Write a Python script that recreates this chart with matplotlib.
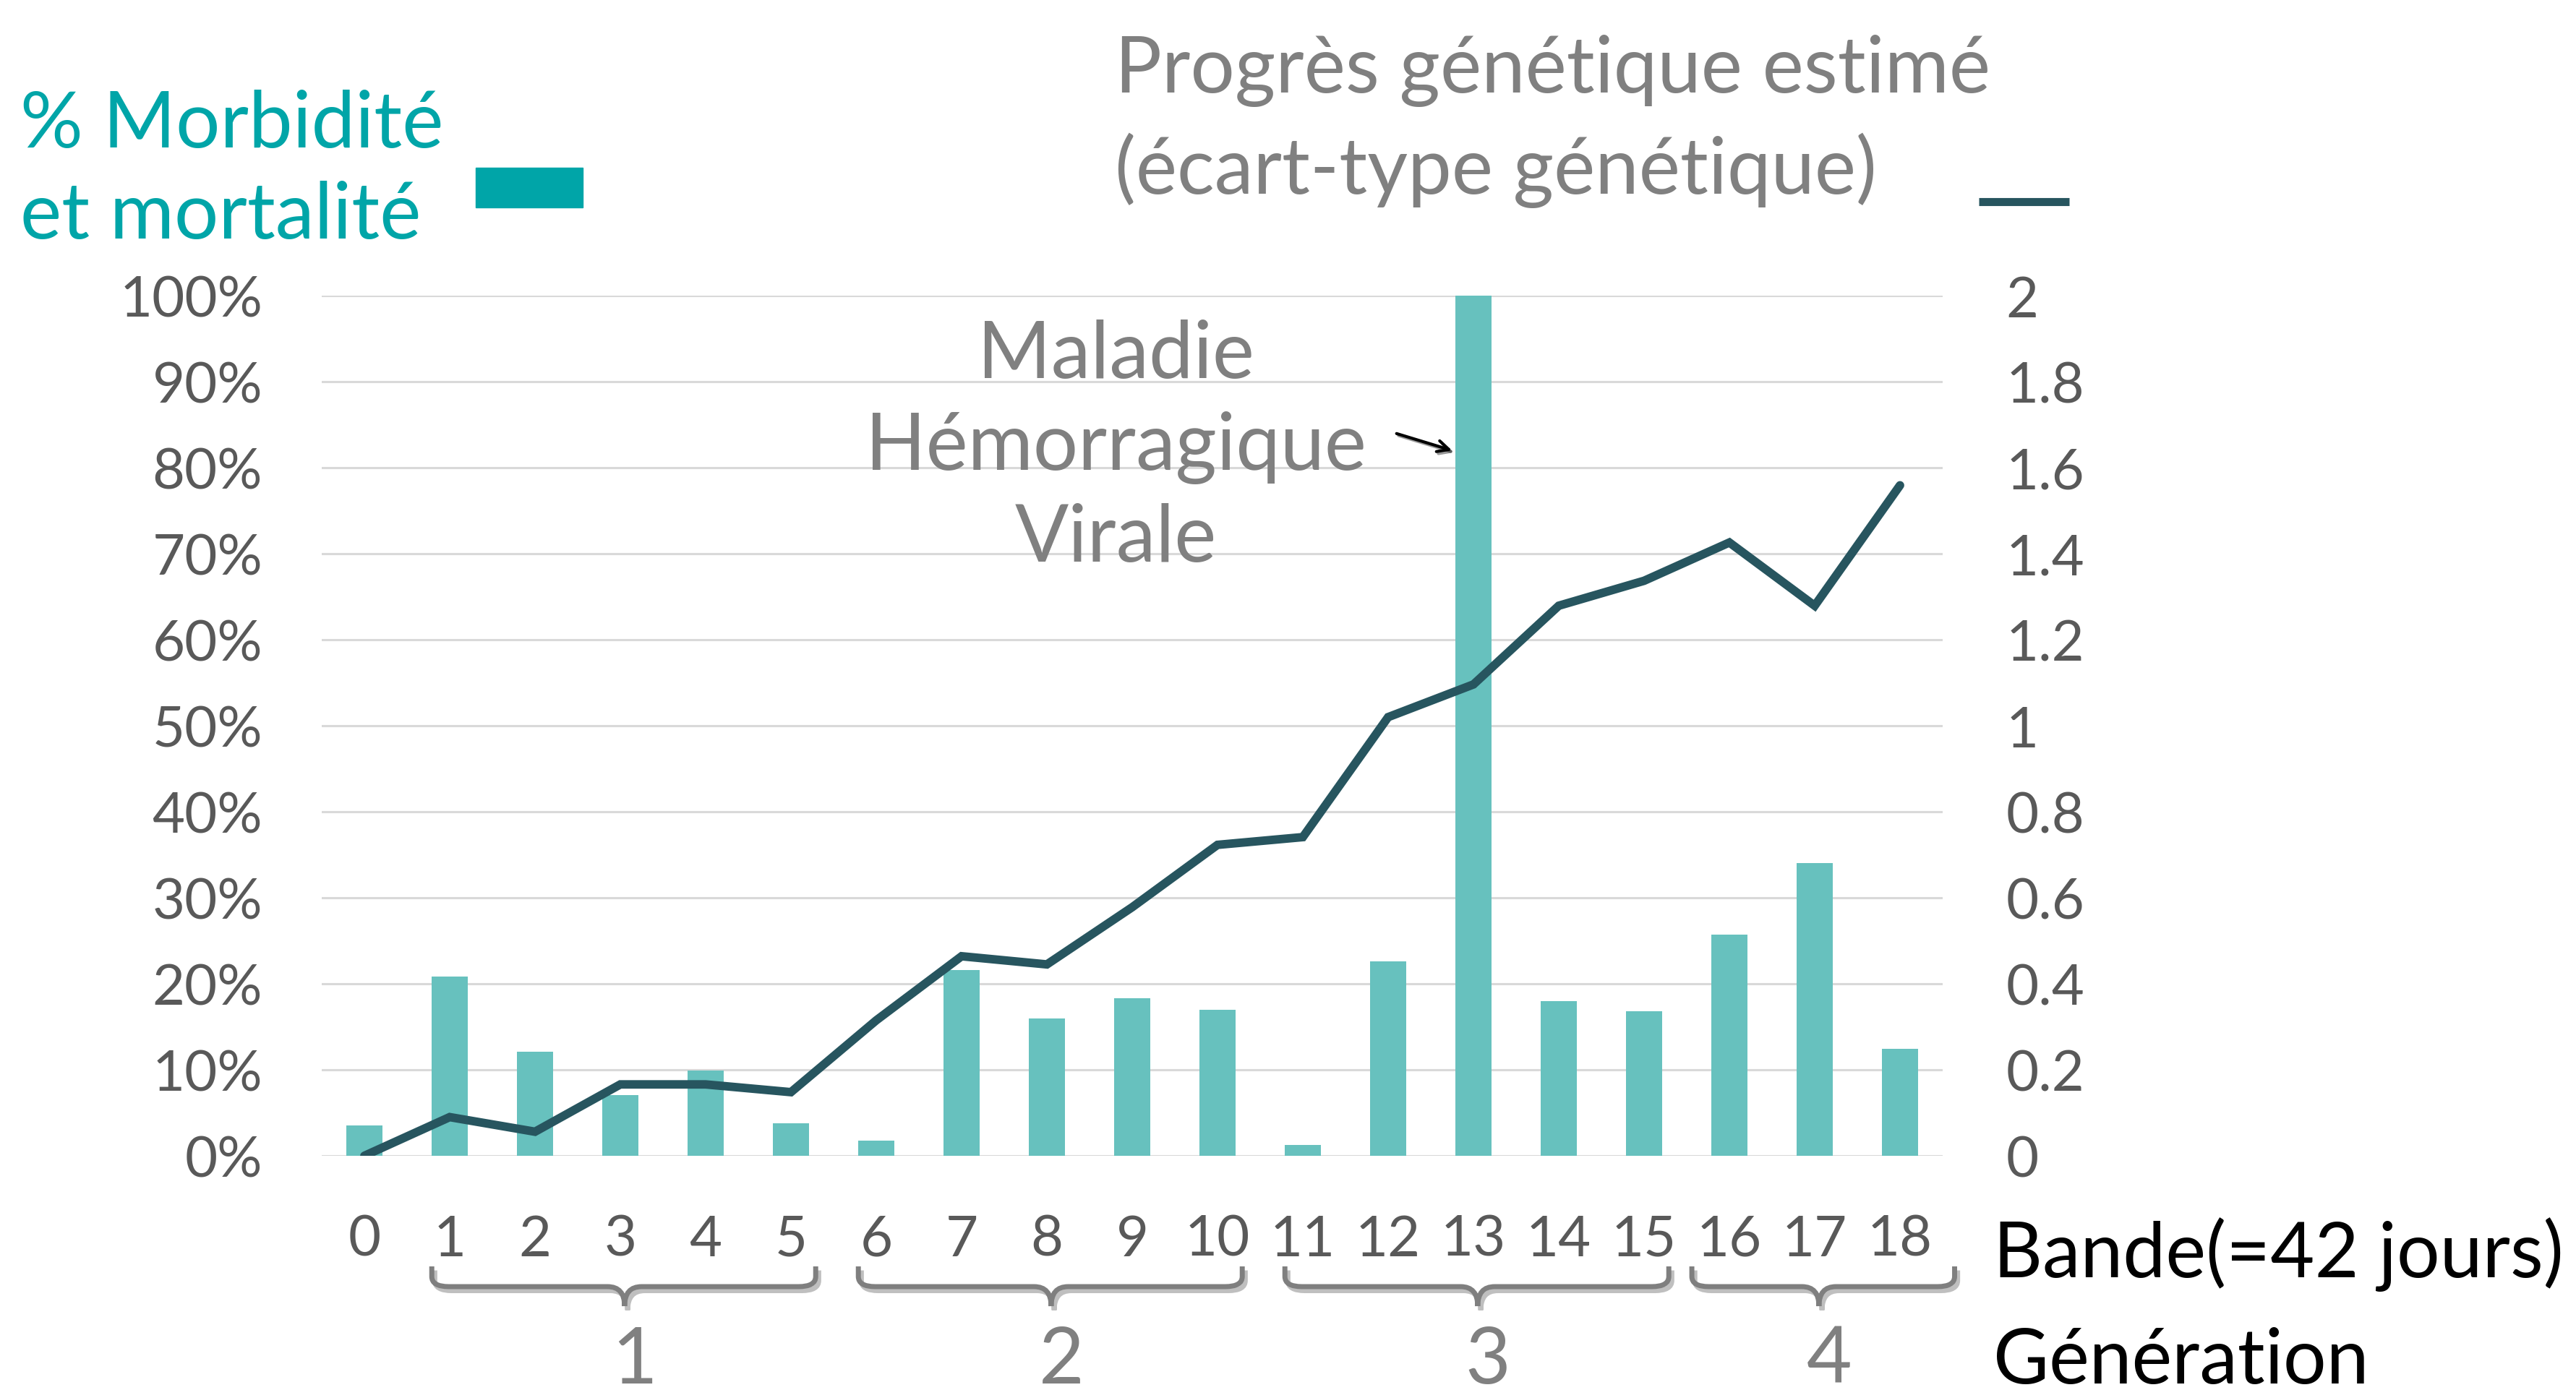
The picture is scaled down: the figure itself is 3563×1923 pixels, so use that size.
import numpy as np
import matplotlib.pyplot as plt
import matplotlib.patheffects as pe
from matplotlib.path import Path
from matplotlib.patches import PathPatch, Rectangle
from matplotlib.transforms import blended_transform_factory
from matplotlib.ticker import PercentFormatter

plt.rcParams['font.family'] = ['Lato', 'DejaVu Sans']

# Donnees
bandes = [str(i) for i in range(19)]
morbidite = [3.5, 20.8, 12.1, 7.1, 9.9, 3.8, 1.8, 21.6, 16.0, 18.3, 17.0,
             1.3, 22.6, 100.0, 18.0, 16.8, 25.7, 34.0, 12.4]  # en %
progres = [0.0, 0.09, 0.056, 0.166, 0.166, 0.148, 0.315, 0.464, 0.445, 0.578,
           0.723, 0.741, 1.02, 1.096, 1.279, 1.337, 1.426, 1.279, 1.559]
generations = ['1', '2', '3', '4']
gen_debut = [1, 6, 11, 16]
gen_fin = [5, 10, 15, 18]

c_bar = '#67C1BE'
c_leg = '#00A5A8'
c_line = '#27555F'
c_gris = '#808080'
c_tick = '#595959'

W, H = 3563, 1924
fig = plt.figure(figsize=(W / 100, H / 100), dpi=100)

# axe principal (en pixels: x 445..2687, y 410..1600)
ax = fig.add_axes([445 / W, (H - 1600) / H, 2242 / W, 1190 / H])
x = np.arange(len(bandes))
ax.bar(x, np.array(morbidite) / 100, width=0.42, color=c_bar, zorder=2)
ax.set_xlim(-0.5, len(bandes) - 0.5)
ax.set_ylim(0, 1)
ax.set_yticks(np.arange(0, 1.01, 0.1))
ax.yaxis.set_major_formatter(PercentFormatter(1.0, decimals=0))
ax.set_xticks(x)
ax.set_xticklabels(bandes)
ax.grid(axis='y', color='#D9D9D9', linewidth=2.2, zorder=0)
ax.set_axisbelow(True)
for s in ax.spines.values():
    s.set_visible(False)
ax.tick_params(axis='both', length=0, labelsize=56, labelcolor=c_tick)
ax.tick_params(axis='y', pad=59)
ax.tick_params(axis='x', pad=58)

ax2 = ax.twinx()
ax2.plot(x, progres, color=c_line, linewidth=8.5, solid_joinstyle='miter',
         solid_capstyle='round', zorder=3)
ax2.set_ylim(0, 2)
ax2.set_yticks(np.arange(0, 2.01, 0.2))
ax2.set_yticklabels(['0', '0.2', '0.4', '0.6', '0.8', '1', '1.2', '1.4', '1.6', '1.8', '2'])
for s in ax2.spines.values():
    s.set_visible(False)
ax2.tick_params(axis='y', length=0, labelsize=56, labelcolor=c_tick, pad=63)

# calque en pixels pour les textes
ov = fig.add_axes([0, 0, 1, 1], facecolor='none')
ov.set_xlim(0, W)
ov.set_ylim(H, 0)
ov.axis('off')

fs = 78
ov.text(28, 204, '% Morbidité', color=c_leg, fontsize=fs, va='baseline')
ov.text(28, 330, 'et mortalité', color=c_leg, fontsize=fs, va='baseline')
ov.add_patch(Rectangle((658, 233), 148, 55, color=c_leg))

ov.text(1542, 128, 'Progrès génétique estimé', color=c_gris, fontsize=fs, va='baseline')
ov.text(1542, 268, '(écart-type génétique)', color=c_gris, fontsize=fs, va='baseline')
ov.plot([2737, 2862], [280, 280], color=c_line, linewidth=8, solid_capstyle='butt')

# annotation MHV
for txt, yb in zip(['Maladie', 'Hémorragique', 'Virale'], [523, 650, 777]):
    ov.text(1543, yb, txt, color=c_gris, fontsize=79, ha='center', va='baseline')
ov.annotate('', xy=(2011, 625), xytext=(1929, 600),
            arrowprops=dict(arrowstyle='->', color='black', lw=3,
                            mutation_scale=28,
                            path_effects=[pe.SimpleLineShadow(offset=(2, -2), alpha=0.4),
                                          pe.Normal()]))

# accolades des generations
tr = blended_transform_factory(ax.transData, ov.transData)
y_top, y_mid, y_tip = 1753, 1781, 1808
r = 0.2
for a, b in zip(gen_debut, gen_fin):
    xa, xb = a - 0.21, b + 0.29 if b < 18 else b + 0.64
    if a == 16:
        xa = a - 0.44
    xm = (a + b) / 2 + 0.05
    verts = [(xa, y_top), (xa, y_mid - 14), (xa, y_mid), (xa + r, y_mid),
             (xm - r, y_mid), (xm, y_mid), (xm, y_tip),
             (xb, y_top), (xb, y_mid - 14), (xb, y_mid), (xb - r, y_mid),
             (xm + r, y_mid), (xm, y_mid), (xm, y_tip)]
    codes = [Path.MOVETO, Path.LINETO, Path.CURVE3, Path.CURVE3,
             Path.LINETO, Path.CURVE3, Path.CURVE3] * 2
    patch = PathPatch(Path(verts, codes), transform=tr, fill=False,
                      edgecolor='#7F7F7F', linewidth=5, capstyle='butt',
                      path_effects=[pe.SimpleLineShadow(offset=(3, -4), alpha=0.25),
                                    pe.Normal()])
    ov.add_patch(patch)

for g, a, b in zip(generations, gen_debut, gen_fin):
    xm = (a + b) / 2 + 0.17
    ov.text(xm, 1914, g, transform=tr, color=c_gris, fontsize=fs,
            ha='center', va='baseline')

ov.text(2757, 1767, 'Bande(=42 jours)', color='black', fontsize=76, va='baseline')
ov.text(2757, 1914, 'Génération', color='black', fontsize=76, va='baseline')

fig.savefig('out.png', dpi=100)
